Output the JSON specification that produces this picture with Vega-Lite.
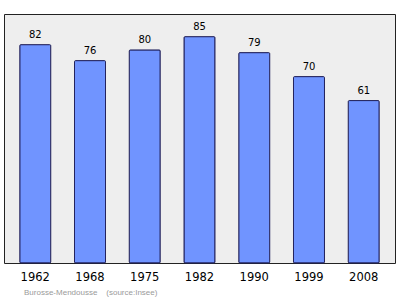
{
  "$schema": "https://vega.github.io/schema/vega-lite/v6.json",
  "width": 391,
  "height": 249,
  "autosize": {"type": "none"},
  "padding": {"left": 4, "top": 14, "right": 5, "bottom": 36},
  "background": "#ffffff",
  "config": {
    "font": "DejaVu Sans",
    "view": {"fill": "#eeeeee", "stroke": "#222222", "strokeWidth": 1}
  },
  "title": {
    "text": "Burosse-Mendousse\u00a0\u00a0\u00a0\u00a0(source:Insee)",
    "orient": "bottom",
    "anchor": "start",
    "frame": "group",
    "dx": 20,
    "offset": 6,
    "fontSize": 8,
    "fontWeight": "normal",
    "color": "#9a9a9a",
    "font": "Liberation Sans"
  },
  "data": {
    "values": [
      {"year": "1962", "population": 82},
      {"year": "1968", "population": 76},
      {"year": "1975", "population": 80},
      {"year": "1982", "population": 85},
      {"year": "1990", "population": 79},
      {"year": "1999", "population": 70},
      {"year": "2008", "population": 61}
    ]
  },
  "encoding": {
    "x": {
      "field": "year",
      "type": "ordinal",
      "scale": {"paddingInner": 0.434, "paddingOuter": 0.288},
      "axis": {
        "title": null,
        "domain": false,
        "ticks": false,
        "labelAngle": 0,
        "labelFontSize": 11.5,
        "labelColor": "#000000",
        "labelPadding": 8
      }
    },
    "y": {
      "field": "population",
      "type": "quantitative",
      "scale": {"domain": [0, 93.5], "nice": false},
      "axis": null
    }
  },
  "layer": [
    {
      "mark": {
        "type": "bar",
        "fill": "#7094ff",
        "stroke": "#23235e",
        "strokeWidth": 1,
        "cornerRadius": 1
      }
    },
    {
      "mark": {
        "type": "text",
        "baseline": "bottom",
        "dy": -5,
        "fontSize": 10,
        "color": "#000000"
      },
      "encoding": {"text": {"field": "population", "type": "quantitative"}}
    }
  ]
}
